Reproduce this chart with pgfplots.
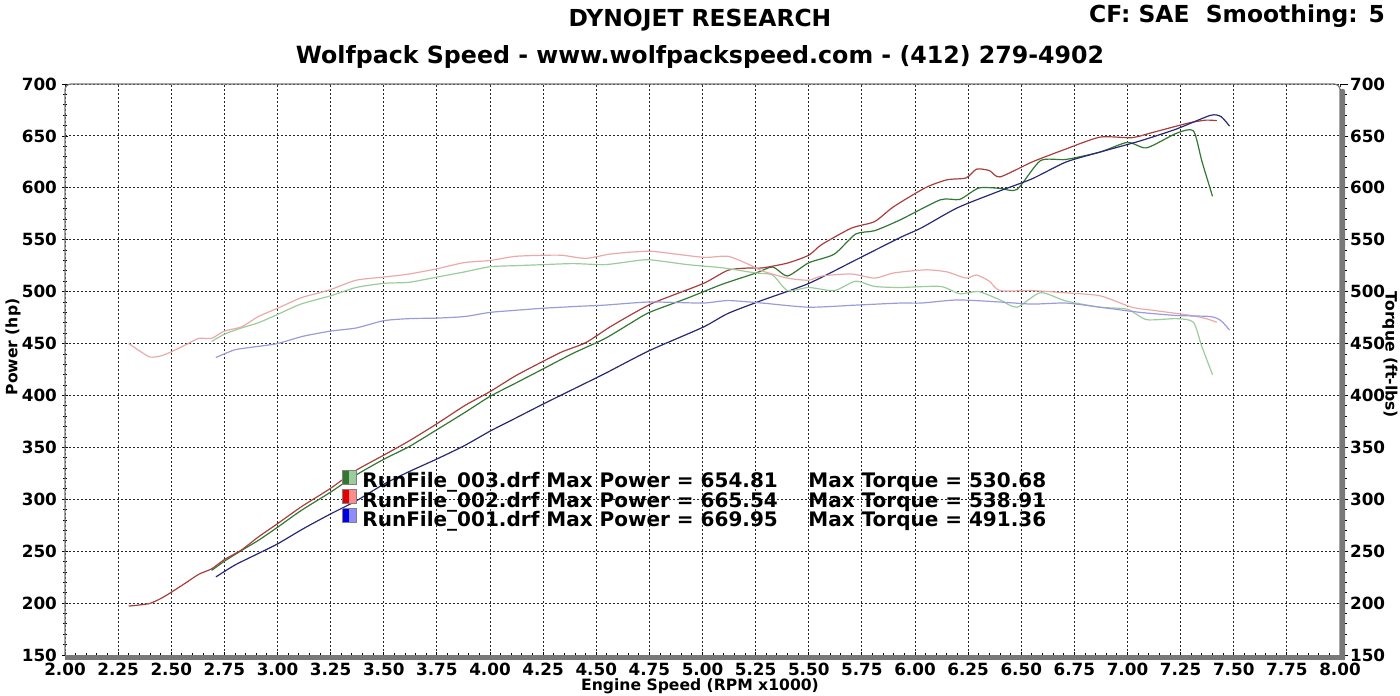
\documentclass[border=0pt]{standalone}
\usepackage{pgfplots}
\pgfplotsset{compat=1.18}
\usepackage{pgfplotstable}
\usepackage{fontspec}
\setmainfont{DejaVu Sans}

\definecolor{rpow}{RGB}{168,62,62}
\definecolor{rtq}{RGB}{235,170,170}
\definecolor{gpow}{RGB}{50,120,50}
\definecolor{gtq}{RGB}{155,205,155}
\definecolor{bpow}{RGB}{40,40,115}
\definecolor{btq}{RGB}{155,155,218}
\definecolor{framegray}{RGB}{120,120,120}

% RunFile_003 (green)
\pgfplotstableread{
rpm tq hp
2.69 452 231.5
2.75 459 240.3
2.83 465 250.6
2.91 470 260.4
3.00 478 273.0
3.11 488 289.0
3.25 496 306.9
3.37 504 323.4
3.50 508 338.5
3.62 509 350.8
3.75 514 367.0
3.88 519 383.4
4.00 524 399.1
4.12 525 411.8
4.25 526 425.6
4.39 527 440.5
4.54 526 454.7
4.66 529 469.4
4.75 530.7 480.0
4.93 526 493.8
5.09 523 506.9
5.25 518 517.8
5.33 516 523.7
5.40 501 515.1
5.50 504 527.8
5.62 501 536.1
5.72 510 555.4
5.81 505 558.7
5.93 504 569.1
6.12 505 588.5
6.21 498 588.8
6.30 500 599.8
6.40 492 599.5
6.48 485 598.4
6.59 499 626.1
6.71 491 627.3
6.87 485 634.4
7.00 483 643.8
7.09 473 638.5
7.23 474 652.5
7.31 470.5 654.9
7.35 447 625.6
7.40 420 591.8
}\runC

% RunFile_002 (red)
\pgfplotstableread{
rpm tq hp
2.30 450 197.1
2.35 443 198.2
2.40 437 199.7
2.45 438 204.3
2.50 442 210.4
2.57 449 219.7
2.63 455 227.8
2.69 455 233.0
2.75 462 241.9
2.83 466 251.1
2.91 476 263.7
3.00 484 276.5
3.11 494 292.5
3.18 498 301.5
3.25 502 310.6
3.37 511 327.9
3.50 514 342.5
3.62 517 356.3
3.75 522 372.7
3.88 528 390.1
4.00 530 403.7
4.12 534 418.9
4.25 535 432.9
4.34 535 442.1
4.45 532 450.8
4.56 536 465.4
4.66 538 477.4
4.76 538.9 488.4
4.86 536.5 496.5
5.01 533 508.4
5.12 534 520.6
5.22 526 522.8
5.28 520 522.8
5.40 513 527.5
5.50 511 535.1
5.56 515 545.2
5.70 517 561.1
5.81 513 567.5
5.90 518 581.9
6.05 521 600.2
6.15 519 607.7
6.24 513 609.5
6.29 516 618.0
6.35 510 616.6
6.40 501 610.5
6.55 501 624.8
6.70 499 636.6
6.87 496 648.8
7.02 485 648.3
7.12 482 653.4
7.23 479 659.4
7.30 477 663.0
7.37 474 665.2
7.42 470.5 664.7
}\runB

% RunFile_001 (blue)
\pgfplotstableread{
rpm tq hp
2.71 436.5 225.2
2.80 444 236.7
2.90 447 246.8
3.00 450 257.0
3.12 457 271.5
3.25 462 285.9
3.37 465 298.4
3.50 472 314.5
3.62 474 326.7
3.75 474.5 338.8
3.88 476 351.7
4.00 480 365.6
4.12 482 378.1
4.25 484 391.7
4.43 486 409.9
4.54 487 421.0
4.75 490 443.2
5.00 489 465.5
5.12 491.4 479.0
5.28 489 491.6
5.50 485 507.9
5.72 487 530.4
5.93 489 552.1
6.03 489 561.4
6.20 492 580.8
6.40 490 597.1
6.55 488 608.6
6.71 489 624.8
6.87 485 634.4
7.06 480 645.2
7.23 477 656.6
7.39 476 669.8
7.44 472 668.6
7.48 463 659.4
}\runA

\newcommand{\tickfont}{\bfseries\fontsize{8.4}{9}\selectfont}
\newcommand{\labfont}{\bfseries\fontsize{7.8}{9}\selectfont}
\newcommand{\titfont}{\bfseries\fontsize{11.7}{13}\selectfont}
\newcommand{\subfont}{\bfseries\fontsize{11.85}{13}\selectfont}
\newcommand{\legfont}{\bfseries\fontsize{10}{11}\selectfont}

\begin{document}
\begin{tikzpicture}
\useasboundingbox (-32.5pt,-20pt) rectangle (667.5pt,327.5pt);
\begin{axis}[
  name=main, at={(0pt,0pt)}, anchor=south west,
  scale only axis, width=637.5pt, height=285.5pt,
  xmin=2, xmax=8, ymin=150, ymax=700,
  xtick distance=0.25, ytick distance=50,
  minor x tick num=4, minor y tick num=4,
  xtick pos=left, ytick pos=left,
  grid=major,
  major grid style={black!85, line width=0.45pt, dash pattern=on 1pt off 1pt},
  axis line style={draw=none},
  tick style={black, line width=0.4pt},
  major tick length=3pt, minor tick length=2pt,
  tick align=center,
  /pgf/number format/assume math mode=true,
  xticklabel style={/pgf/number format/.cd, fixed, fixed zerofill, precision=2, assume math mode=true, /tikz/.cd, font=\tickfont, yshift=1pt},
  yticklabel style={/pgf/number format/assume math mode=true, font=\tickfont, xshift=1pt},
  clip=false,
]
\addplot[gpow, line width=0.6pt, smooth, tension=0.4] table[x=rpm, y=hp] {\runC};
\addplot[rpow, line width=0.6pt, smooth, tension=0.4] table[x=rpm, y=hp] {\runB};
\addplot[bpow, line width=0.6pt, smooth, tension=0.4] table[x=rpm, y=hp] {\runA};
\end{axis}
\begin{axis}[
  at={(0pt,0pt)}, anchor=south west,
  scale only axis, width=637.5pt, height=285.5pt,
  xmin=2, xmax=8, ymin=150, ymax=700,
  axis x line=none, axis y line*=right,
  y axis line style={draw=none},
  ytick distance=50, minor y tick num=4,
  tick style={black, line width=0.4pt},
  major tick length=4.2pt, minor tick length=3.4pt,
  tick align=outside,
  yticklabel style={/pgf/number format/assume math mode=true, font=\tickfont, xshift=-2.7pt},
  clip=false,
]
\addplot[gtq, line width=0.6pt, smooth, tension=0.4] table[x=rpm, y=tq] {\runC};
\addplot[rtq, line width=0.6pt, smooth, tension=0.4] table[x=rpm, y=tq] {\runB};
\addplot[btq, line width=0.6pt, smooth, tension=0.4] table[x=rpm, y=tq] {\runA};
\end{axis}
% frame
\draw[framegray, line width=0.6pt, rounded corners=3pt] (0pt,0pt) -- (0pt,285.5pt) -- (637.5pt,285.5pt) -- (637.5pt,0pt);
\fill[framegray] (0pt,-2.6pt) rectangle (640pt,0pt);
\fill[framegray, rounded corners=1pt] (637.5pt,-2.6pt) rectangle (640pt,283pt);
% titles
\node[font=\titfont] at (317.5pt,317.5pt) {DYNOJET RESEARCH};
\node[font=\subfont] at (317.5pt,299pt) {Wolfpack Speed - www.wolfpackspeed.com - (412) 279-4902};
\node[font=\titfont, anchor=east] at (663.5pt,319.5pt) {CF: SAE\ \ Smoothing: 5};
\node[font=\labfont] at (317.5pt,-15.5pt) {Engine Speed (RPM x1000)};
\node[font=\labfont, rotate=90] at (-26pt,154pt) {Power (hp)};
\node[font=\labfont, rotate=-90] at (662.5pt,150pt) {Torque (ft-lbs)};
% legend
\fill[gpow] (138.5pt,85.5pt) rectangle (142pt,92.5pt);
\fill[gtq] (142pt,85.5pt) rectangle (145.5pt,92.5pt);
\draw[gray, line width=0.3pt] (138.5pt,85.5pt) rectangle (145.5pt,92.5pt);
\fill[red!90!black] (138.5pt,76pt) rectangle (142pt,83pt);
\fill[red!45] (142pt,76pt) rectangle (145.5pt,83pt);
\draw[gray, line width=0.3pt] (138.5pt,76pt) rectangle (145.5pt,83pt);
\fill[blue!90!black] (138.5pt,66.5pt) rectangle (142pt,73.5pt);
\fill[blue!45] (142pt,66.5pt) rectangle (145.5pt,73.5pt);
\draw[gray, line width=0.3pt] (138.5pt,66.5pt) rectangle (145.5pt,73.5pt);
\node[font=\legfont, anchor=base west, inner sep=0pt] at (148.5pt,83.5pt) {RunFile\_003.drf Max Power = 654.81};
\node[font=\legfont, anchor=base west, inner sep=0pt] at (371.5pt,83.5pt) {Max Torque = 530.68};
\node[font=\legfont, anchor=base west, inner sep=0pt] at (148.5pt,73.75pt) {RunFile\_002.drf Max Power = 665.54};
\node[font=\legfont, anchor=base west, inner sep=0pt] at (371.5pt,73.75pt) {Max Torque = 538.91};
\node[font=\legfont, anchor=base west, inner sep=0pt] at (148.5pt,64pt) {RunFile\_001.drf Max Power = 669.95};
\node[font=\legfont, anchor=base west, inner sep=0pt] at (371.5pt,64pt) {Max Torque = 491.36};
\end{tikzpicture}
\end{document}
